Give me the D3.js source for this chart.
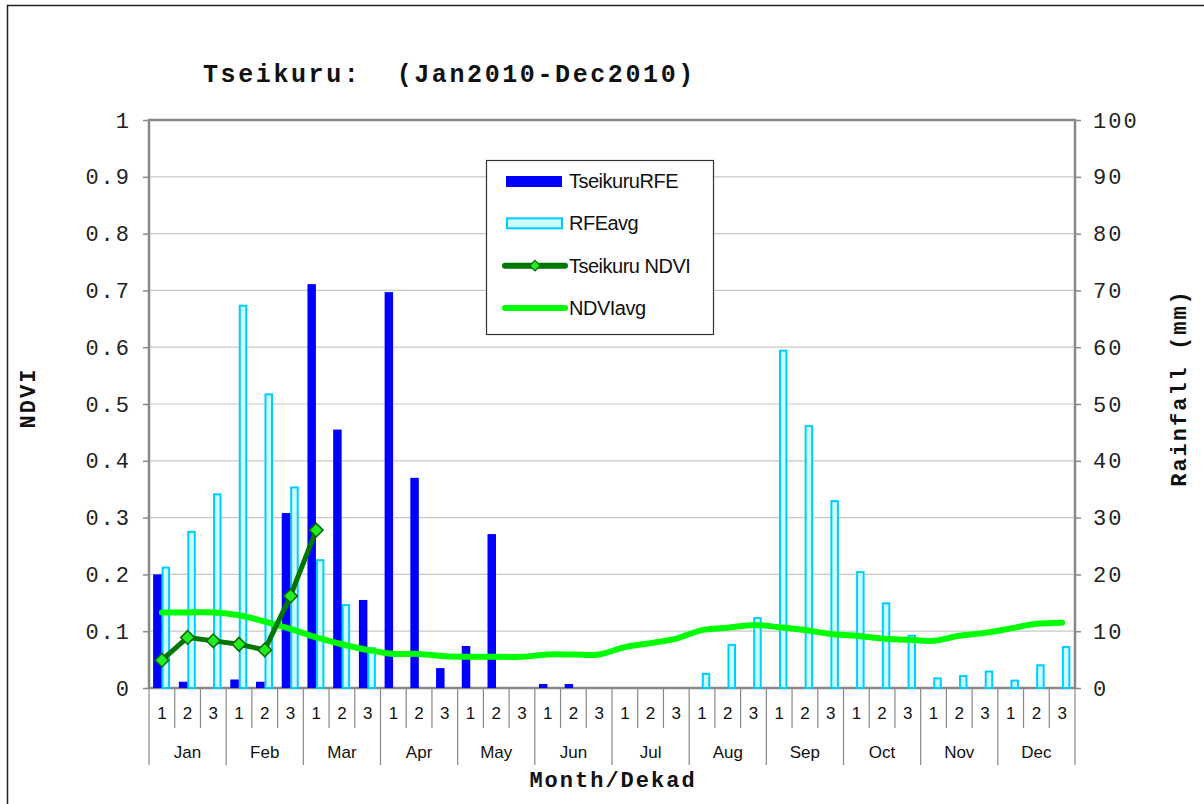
<!DOCTYPE html>
<html>
<head>
<meta charset="utf-8">
<script src="https://cdn.jsdelivr.net/npm/d3@7"></script>
<style>
  body { margin: 0; background: #fff; }
  svg { display: block; }
</style>
</head>
<body>
<script>
// chart values
const months = ["Jan", "Feb", "Mar", "Apr", "May", "Jun", "Jul", "Aug", "Sep", "Oct", "Nov", "Dec"];
const dekads = ["1", "2", "3"];

// rainfall (mm), one value per dekad
const tseikuruRFE = [20, 1.1, 0, 1.5, 1.1, 30.8, 71.1, 45.5, 15.5, 69.7, 37, 3.5,
                     7.4, 27.1, 0, 0.7, 0.7, 0, 0, 0, 0, 0, 0, 0,
                     0, 0, 0, 0, 0, 0, 0, 0, 0, 0, 0, 0];
const rfeAvg = [21.2, 27.5, 34.1, 67.3, 51.7, 35.3, 22.5, 14.6, 7, 0, 0, 0,
                0, 0, 0, 0, 0, 0, 0, 0, 0, 2.5, 7.6, 12.3,
                59.4, 46.1, 32.9, 20.4, 14.9, 9.2, 1.7, 2.1, 2.9, 1.3, 4.0, 7.2];

// NDVI
const tseikuruNDVI = [0.049, 0.089, 0.083, 0.077, 0.067, 0.162, 0.278];
const ndviAvg = [0.133, 0.133, 0.133, 0.128, 0.117, 0.104, 0.089, 0.077, 0.067, 0.060, 0.060, 0.056,
                 0.055, 0.055, 0.055, 0.059, 0.059, 0.059, 0.072, 0.079, 0.087, 0.102, 0.106, 0.111,
                 0.107, 0.102, 0.095, 0.092, 0.087, 0.085, 0.083, 0.092, 0.097, 0.105, 0.113, 0.115];

const ndviTicks = [0, 0.1, 0.2, 0.3, 0.4, 0.5, 0.6, 0.7, 0.8, 0.9, 1];
const rainTicks = [0, 10, 20, 30, 40, 50, 60, 70, 80, 90, 100];

const width = 1204, height = 804;
const plot = {left: 149, right: 1075, top: 120, bottom: 688};

const cats = [];
months.forEach(m => dekads.forEach(d => cats.push(m + "-" + d)));

const svg = d3.select("body").append("svg")
    .attr("width", width)
    .attr("height", height);

// outer frame (runs off the right and bottom edge like the reference)
svg.append("rect")
    .attr("x", 7.5).attr("y", 5.5)
    .attr("width", 1210).attr("height", 810)
    .attr("fill", "none")
    .attr("stroke", "#222")
    .attr("stroke-width", 1.5);

const x = d3.scaleBand().domain(cats).range([plot.left, plot.right]).padding(0);
const bw = x.bandwidth();
const xInner = d3.scaleBand().domain(["rfe", "avg"]).range([bw * 0.16, bw * 0.82]).padding(0);
const yN = d3.scaleLinear().domain([0, 1]).range([plot.bottom, plot.top]);
const yR = d3.scaleLinear().domain([0, 100]).range([plot.bottom, plot.top]);

// gridlines
svg.append("g")
    .selectAll("line")
    .data(ndviTicks.slice(1, -1))
    .join("line")
    .attr("x1", plot.left).attr("x2", plot.right)
    .attr("y1", d => yN(d)).attr("y2", d => yN(d))
    .attr("stroke", "#c8c8c8")
    .attr("stroke-width", 1.2);

// axes
const monoTick = g => g.selectAll("text")
    .attr("font-family", "'Liberation Mono', 'Courier New', monospace")
    .attr("font-size", 22)
    .attr("letter-spacing", 2)
    .attr("fill", "#222");

const leftAxis = svg.append("g")
    .attr("transform", `translate(${plot.left},0)`)
    .call(d3.axisLeft(yN).tickValues(ndviTicks).tickSize(6).tickPadding(12).tickFormat(d => String(+d.toFixed(1))));
leftAxis.call(monoTick);
leftAxis.selectAll("line").attr("stroke", "#888").attr("stroke-width", 1.5);
leftAxis.select(".domain").remove();

const rightAxis = svg.append("g")
    .attr("transform", `translate(${plot.right},0)`)
    .call(d3.axisRight(yR).tickValues(rainTicks).tickSize(6).tickPadding(12));
rightAxis.call(monoTick);
rightAxis.selectAll("line").attr("stroke", "#888").attr("stroke-width", 1.5);
rightAxis.select(".domain").remove();

// plot frame
svg.append("rect")
    .attr("x", plot.left).attr("y", plot.top)
    .attr("width", plot.right - plot.left).attr("height", plot.bottom - plot.top)
    .attr("fill", "none")
    .attr("stroke", "#888")
    .attr("stroke-width", 2.5);

// bars
svg.append("g")
    .selectAll("rect")
    .data(rfeAvg.map((v, i) => ({cat: cats[i], v})))
    .join("rect")
    .attr("x", d => x(d.cat) + xInner("avg") + 1)
    .attr("width", xInner.bandwidth() - 2)
    .attr("y", d => yR(d.v))
    .attr("height", d => yR(0) - yR(d.v))
    .attr("fill", "#ccffff")
    .attr("stroke", "#00ccff")
    .attr("stroke-width", 2)
    .attr("display", d => d.v > 0 ? null : "none");

svg.append("g")
    .selectAll("rect")
    .data(tseikuruRFE.map((v, i) => ({cat: cats[i], v})))
    .join("rect")
    .attr("x", d => x(d.cat) + xInner("rfe"))
    .attr("width", xInner.bandwidth())
    .attr("y", d => yR(d.v))
    .attr("height", d => yR(0) - yR(d.v))
    .attr("fill", "#0000ff")
    .attr("display", d => d.v > 0 ? null : "none");

// NDVI lines
const cx = i => x(cats[i]) + bw / 2;

svg.append("path")
    .datum(ndviAvg)
    .attr("d", d3.line().x((d, i) => cx(i)).y(d => yN(d)).curve(d3.curveCatmullRom))
    .attr("fill", "none")
    .attr("stroke", "#00ff00")
    .attr("stroke-width", 6)
    .attr("stroke-linecap", "round");

svg.append("path")
    .datum(tseikuruNDVI)
    .attr("d", d3.line().x((d, i) => cx(i)).y(d => yN(d)))
    .attr("fill", "none")
    .attr("stroke", "#007700")
    .attr("stroke-width", 5);

const diamond = d3.symbol().type(d3.symbolDiamond2).size(120);
svg.append("g")
    .selectAll("path")
    .data(tseikuruNDVI)
    .join("path")
    .attr("d", diamond)
    .attr("transform", (d, i) => `translate(${cx(i)},${yN(d)})`)
    .attr("fill", "#22ee22")
    .attr("stroke", "#006600")
    .attr("stroke-width", 1.5);

// category axis: dekad and month rows
const xa = svg.append("g");
d3.range(cats.length + 1).forEach(i => {
    const px = plot.left + i * bw;
    xa.append("line")
        .attr("x1", px).attr("x2", px)
        .attr("y1", plot.bottom).attr("y2", i % 3 === 0 ? 765 : 728)
        .attr("stroke", "#888")
        .attr("stroke-width", 1.2);
});
xa.selectAll("text.dek")
    .data(cats)
    .join("text")
    .attr("class", "dek")
    .attr("x", d => x(d) + bw / 2)
    .attr("y", 719)
    .attr("text-anchor", "middle")
    .attr("font-family", "'Liberation Sans', Arial, sans-serif")
    .attr("font-size", 17)
    .attr("fill", "#111")
    .text(d => d.split("-")[1]);
xa.selectAll("text.mon")
    .data(months)
    .join("text")
    .attr("class", "mon")
    .attr("x", d => x(d + "-2") + bw / 2)
    .attr("y", 758)
    .attr("text-anchor", "middle")
    .attr("font-family", "'Liberation Sans', Arial, sans-serif")
    .attr("font-size", 17)
    .attr("fill", "#111")
    .text(d => d);

// titles
const bold = sel => sel
    .attr("font-family", "'Liberation Mono', 'Courier New', monospace")
    .attr("font-weight", "bold")
    .attr("fill", "#111");

svg.append("text")
    .attr("x", 203).attr("y", 82)
    .attr("font-size", 25)
    .attr("letter-spacing", 2.6)
    .attr("xml:space", "preserve")
    .style("white-space", "pre")
    .call(bold)
    .text("Tseikuru:  (Jan2010-Dec2010)");

svg.append("text")
    .attr("x", 613).attr("y", 787)
    .attr("text-anchor", "middle")
    .attr("font-size", 22)
    .attr("letter-spacing", 2)
    .call(bold)
    .text("Month/Dekad");

svg.append("text")
    .attr("transform", "translate(35,398) rotate(-90)")
    .attr("text-anchor", "middle")
    .attr("font-size", 22)
    .attr("letter-spacing", 2)
    .call(bold)
    .text("NDVI");

svg.append("text")
    .attr("transform", "translate(1186,388) rotate(-90)")
    .attr("text-anchor", "middle")
    .attr("font-size", 22)
    .attr("letter-spacing", 2)
    .call(bold)
    .text("Rainfall (mm)");

// legend
const lg = svg.append("g");
lg.append("rect")
    .attr("x", 486.5).attr("y", 160.5)
    .attr("width", 227).attr("height", 174)
    .attr("fill", "#fff")
    .attr("stroke", "#333")
    .attr("stroke-width", 1.2);

const legendItems = ["TseikuruRFE", "RFEavg", "Tseikuru NDVI", "NDVIavg"];
const ly = d3.scalePoint().domain(legendItems).range([181, 308]);

lg.append("rect").attr("x", 506).attr("y", ly("TseikuruRFE") - 5).attr("width", 56).attr("height", 11).attr("fill", "#0000ff");
lg.append("rect").attr("x", 507).attr("y", ly("RFEavg") - 5).attr("width", 55).attr("height", 10)
    .attr("fill", "#ccffff").attr("stroke", "#00ccff").attr("stroke-width", 2);
lg.append("line").attr("x1", 505).attr("x2", 565).attr("y1", ly("Tseikuru NDVI")).attr("y2", ly("Tseikuru NDVI"))
    .attr("stroke", "#007700").attr("stroke-width", 6).attr("stroke-linecap", "round");
lg.append("path").attr("d", d3.symbol().type(d3.symbolDiamond2).size(70))
    .attr("transform", `translate(535,${ly("Tseikuru NDVI")})`)
    .attr("fill", "#22ee22").attr("stroke", "#006600").attr("stroke-width", 1.2);
lg.append("line").attr("x1", 505).attr("x2", 565).attr("y1", ly("NDVIavg")).attr("y2", ly("NDVIavg"))
    .attr("stroke", "#00ff00").attr("stroke-width", 6).attr("stroke-linecap", "round");

lg.selectAll("text")
    .data(legendItems)
    .join("text")
    .attr("x", 569)
    .attr("y", d => ly(d) + 7)
    .attr("font-family", "'Liberation Sans', Arial, sans-serif")
    .attr("font-size", 20)
    .attr("letter-spacing", -0.5)
    .attr("fill", "#111")
    .text(d => d);
</script>
</body>
</html>
